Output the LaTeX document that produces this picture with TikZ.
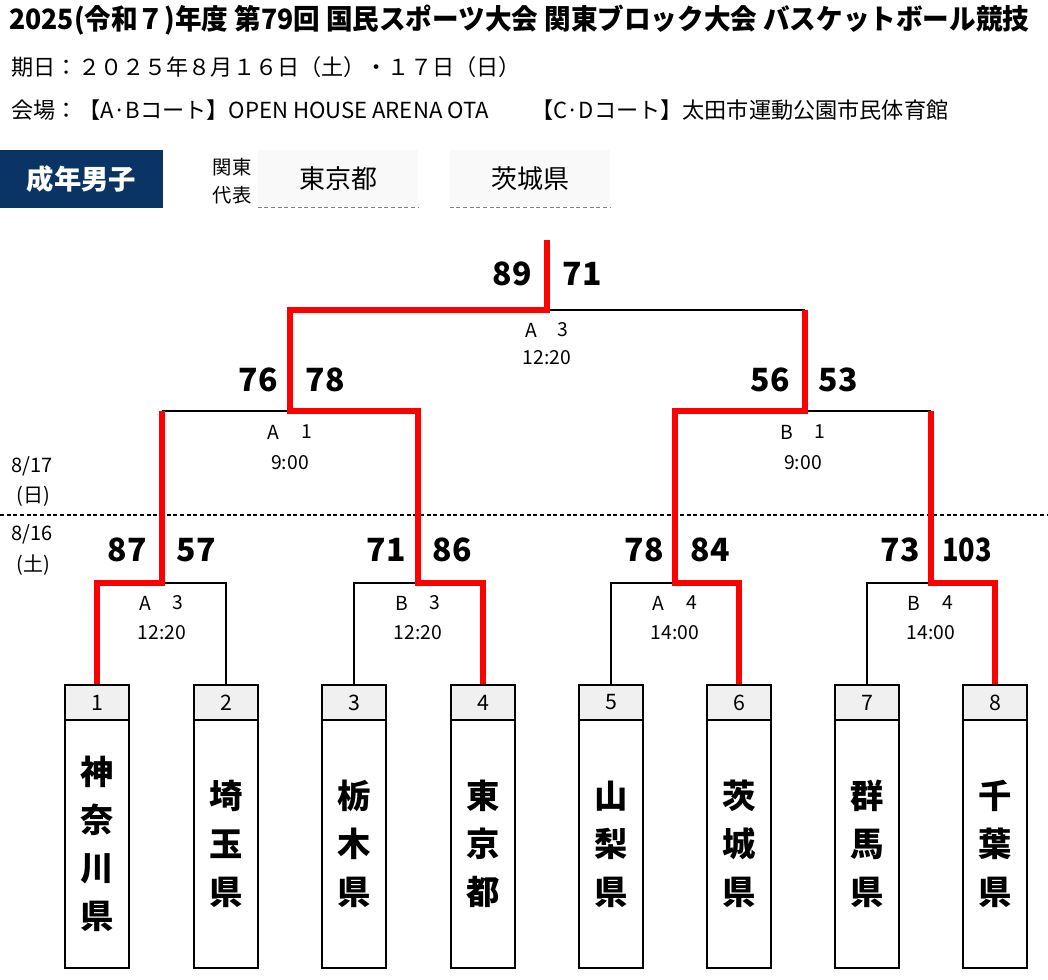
\documentclass[tikz,border=0pt]{standalone}
\usepackage{fontspec}
\setmainfont{Noto Sans CJK JP}
\usepackage{tikz}
\usetikzlibrary{positioning,calc}
\definecolor{navy}{RGB}{10,52,100}
\definecolor{bandgray}{RGB}{240,240,240}
\definecolor{repgray}{RGB}{249,249,249}
\tikzset{
	line/.style={line width=1.5pt},
	win/.style={line width=3.8pt,red,line join=miter},
	score/.style={font=\bfseries\fontsize{24}{24}\selectfont},
	info/.style={font=\fontsize{14.5}{15}\selectfont},
	day/.style={font=\fontsize{15}{16}\selectfont},
	namebox/.style={draw,line width=1.5pt,fill=white,minimum width=48pt,minimum height=186pt,inner sep=0pt,align=center,font=\bfseries\fontsize{25}{36}\selectfont},
	numband/.style={draw,line width=1.5pt,fill=bandgray,minimum width=48pt,minimum height=26.25pt,inner sep=0pt,font=\fontsize{16}{16}\selectfont},
	repbox/.style={fill=repgray,minimum width=120pt,minimum height=42.75pt,inner sep=0pt,font=\fontsize{19.5}{20}\selectfont},
	repline/.style={line width=1pt,gray,dash pattern=on 3pt off 2pt},
	head/.style={anchor=west,font=\fontsize{16.6}{17}\selectfont}
}

\begin{document}
\begin{tikzpicture}[x=0.75pt,y=-0.75pt]
	\useasboundingbox (0,0) rectangle (1048,980);
	% header
	\node[anchor=west,inner sep=0pt,font=\bfseries\fontsize{21}{21}\selectfont] (title) at (9,20) {\resizebox{765pt}{\height}{2025(令和７)年度 第79回 国民スポーツ大会 関東ブロック大会 バスケットボール競技}};
	\node[head] (date) at (7,67) {期日：２０２５年８月１６日（土）・１７日（日）};
	\node[head] (venueab) at (7,110) {会場：【A·Bコート】OPEN HOUSE ARENA OTA};
	\node[head,anchor=east] (venuecd) at (953,110) {【C·Dコート】太田市運動公園市民体育館};
	\node[fill=navy,text=white,minimum width=122.25pt,minimum height=43.5pt,inner sep=0pt,font=\bfseries\fontsize{20.5}{21}\selectfont] (cat) at (81.5,179) {成年男子};
	\node[align=center,font=\fontsize{14.5}{21}\selectfont] (kanto) at (232,181) {関東\\代表};
	\node[repbox] (rep1) at (338,178.5) {東京都};
	\node[repbox] (rep2) at (530,178.5) {茨城県};
	\draw[repline] (rep1.south west) -- (rep1.south east);
	\draw[repline] (rep2.south west) -- (rep2.south east);
	% days
	\draw[line width=1pt,dash pattern=on 3pt off 2pt] (0,515) -- (1048,515);
	\node[day] (d17) at (32,466) {8/17};
	\node[day] (d17w) at (33,496) {(日)};
	\node[day] (d16) at (32,534) {8/16};
	\node[day] (d16w) at (33,565) {(土)};
	% teams
	\node[namebox] (t1) at (97,844) {神\\奈\\川\\県};
	\node[namebox] (t2) at (226,844) {埼\\玉\\県};
	\node[namebox] (t3) at (354,844) {栃\\木\\県};
	\node[namebox] (t4) at (483,844) {東\\京\\都};
	\node[namebox] (t5) at (611,844) {山\\梨\\県};
	\node[namebox] (t6) at (739,844) {茨\\城\\県};
	\node[namebox] (t7) at (867,844) {群\\馬\\県};
	\node[namebox] (t8) at (995,844) {千\\葉\\県};
	\node[numband] (n1) at (97,702.5) {1};
	\node[numband] (n2) at (226,702.5) {2};
	\node[numband] (n3) at (354,702.5) {3};
	\node[numband] (n4) at (483,702.5) {4};
	\node[numband] (n5) at (611,702.5) {5};
	\node[numband] (n6) at (739,702.5) {6};
	\node[numband] (n7) at (867,702.5) {7};
	\node[numband] (n8) at (995,702.5) {8};
	% bracket
	\coordinate (m1) at (162,583);
	\coordinate (m2) at (418,583);
	\coordinate (m3) at (675,583);
	\coordinate (m4) at (931,583);
	\coordinate (q1) at (290,411);
	\coordinate (q2) at (805,411);
	\coordinate (fin) at (547,310);
	\coordinate (top) at (547,240);
	\draw[line] (n2.north) |- (m1);
	\draw[line] (n3.north) |- (m2);
	\draw[line] (n5.north) |- (m3);
	\draw[line] (n7.north) |- (m4);
	\draw[line] (m1 |- q1) -- (q1);
	\draw[line] (m4 |- q2) -- (q2);
	\draw[line] (q2 |- fin) -- (fin);
	\draw[win] (n1.north) |- (m1) -- (m1 |- q1);
	\draw[win] (n4.north) |- (m2) -- (m2 |- q1) -- (q1) -- (q1 |- fin) -- (fin) -- (top);
	\draw[win] (n6.north) |- (m3) -- (m3 |- q2) -- (q2) -- (q2 |- fin);
	\draw[win] (n8.north) |- (m4) -- (m4 |- q2);
	% scores
	\node[score] (s1l) at (127,550) {87};
	\node[score] (s1r) at (196,550) {57};
	\node[score] (s2l) at (386,550) {71};
	\node[score] (s2r) at (452,550) {86};
	\node[score] (s3l) at (644,550) {78};
	\node[score] (s3r) at (710,550) {84};
	\node[score] (s4l) at (900,550) {73};
	\node[score] (s4r) at (967,550) {\scalebox{0.85}[1]{103}};
	\node[score] (s5l) at (258,380) {76};
	\node[score] (s5r) at (325,380) {78};
	\node[score] (s6l) at (770,380) {56};
	\node[score] (s6r) at (838,380) {53};
	\node[score] (s7l) at (512,274) {89};
	\node[score] (s7r) at (582,274) {71};
	% match info
	\node[info] (c1) at (145,603) {A};
	\node[info] (g1) at (178,603) {3};
	\node[info] (h1) at (162,633) {12:20};
	\node[info] (c2) at (402,603) {B};
	\node[info] (g2) at (435,603) {3};
	\node[info] (h2) at (418,633) {12:20};
	\node[info] (c3) at (658,603) {A};
	\node[info] (g3) at (692,603) {4};
	\node[info] (h3) at (675,633) {14:00};
	\node[info] (c4) at (914,603) {B};
	\node[info] (g4) at (948,603) {4};
	\node[info] (h4) at (931,633) {14:00};
	\node[info] (c5) at (273,432) {A};
	\node[info] (g5) at (307,432) {1};
	\node[info] (h5) at (290,463) {9:00};
	\node[info] (c6) at (787,432) {B};
	\node[info] (g6) at (820,432) {1};
	\node[info] (h6) at (803,463) {9:00};
	\node[info] (c7) at (531,330) {A};
	\node[info] (g7) at (563,330) {3};
	\node[info] (h7) at (547,358) {12:20};
\end{tikzpicture}
\end{document}
